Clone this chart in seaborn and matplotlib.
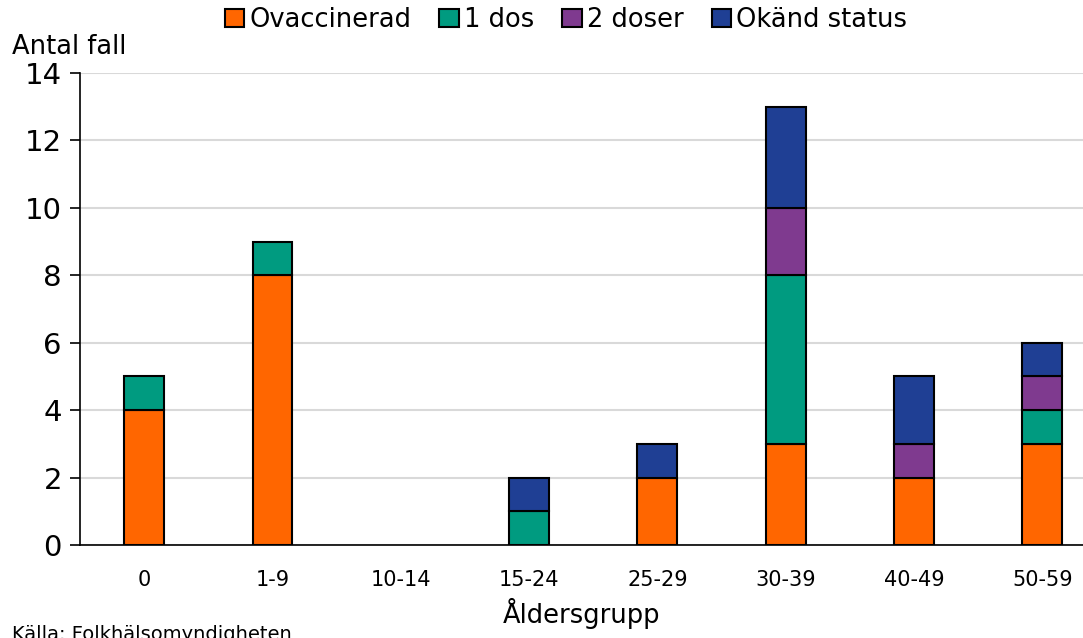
import matplotlib
matplotlib.use("Agg")
import matplotlib.pyplot as plt
from matplotlib.patches import Patch
import seaborn as sns
import pandas as pd
import numpy as np

categories = ["0", "1-9", "10-14", "15-24", "25-29", "30-39", "40-49", "50-59"]
ovaccinerad = [4, 8, 0, 0, 2, 3, 2, 3]
en_dos = [1, 1, 0, 1, 0, 5, 0, 1]
tva_doser = [0, 0, 0, 0, 0, 2, 1, 1]
okand = [0, 0, 0, 1, 1, 3, 2, 1]

series_names = ["Ovaccinerad", "1 dos", "2 doser", "Okänd status"]
series_values = [ovaccinerad, en_dos, tva_doser, okand]
colors = ["#FF6600", "#009B80", "#7F3A8F", "#1F3F94"]

sns.set_theme(style="white")
plt.rcParams['font.family'] = ['DejaVu Sans']
plt.rcParams['text.color'] = 'black'
plt.rcParams['axes.labelcolor'] = 'black'
plt.rcParams['xtick.color'] = 'black'
plt.rcParams['ytick.color'] = 'black'

W, H = 1083, 638
fig = plt.figure(figsize=(W / 100, H / 100), dpi=100)
ax_left, ax_right, ax_top, ax_bottom = 80, 1083, 73, 545
ax = fig.add_axes([ax_left / W, 1 - ax_bottom / H, (ax_right - ax_left) / W, (ax_bottom - ax_top) / H])

bottom = np.zeros(len(categories))
for name, vals, col in zip(series_names, series_values, colors):
    df = pd.DataFrame({"cat": categories, "val": vals})
    sns.barplot(data=df, x="cat", y="val", bottom=bottom, color=col, width=0.31,
                edgecolor="black", linewidth=1.5, ax=ax, saturation=1)
    bottom = bottom + np.array(vals)

for p in ax.patches:
    if p.get_height() == 0:
        p.set_visible(False)
if ax.get_legend() is not None:
    ax.get_legend().remove()

spacing = 128.3
ax.set_xlim(-0.5, -0.5 + (ax_right - ax_left) / spacing)
ax.set_ylim(0, 14)
ax.set_yticks(range(0, 15, 2))
ax.yaxis.grid(True, color="#D9D9D9", linewidth=1.5)
ax.set_axisbelow(True)
for s in ["top", "right"]:
    ax.spines[s].set_visible(False)
ax.spines["left"].set_color("black")
ax.spines["left"].set_linewidth(1.2)
ax.spines["bottom"].set_color("black")
ax.spines["bottom"].set_linewidth(1.2)
ax.tick_params(axis="y", which="both", left=True, length=7, width=1.2, color="black",
               labelsize=21, pad=6, direction="out", labelcolor="black")
ax.tick_params(axis="x", bottom=False, labelsize=15, pad=12, labelcolor="black")
ax.set_ylabel("")
ax.set_xlabel("Åldersgrupp", fontsize=18.5, labelpad=6, color="black")

fig.text(12 / W, 1 - 47 / H, "Antal fall", fontsize=18.5, ha="left", va="center", color="black")
fig.text(12 / W, 1 - 625 / H, "Källa: Folkhälsomyndigheten", fontsize=14, ha="left", va="top",
         color="black")

handles = [Patch(facecolor=c, edgecolor="black", linewidth=1.5) for c in colors]
fig.legend(handles, series_names, loc="center", bbox_to_anchor=(566 / W, 1 - 20 / H), ncol=4,
           frameon=False, fontsize=18.5, handlelength=0.75, handleheight=0.75,
           handletextpad=0.2, columnspacing=1.1, borderaxespad=0, labelcolor="black")

fig.savefig("out.png", dpi=100)
